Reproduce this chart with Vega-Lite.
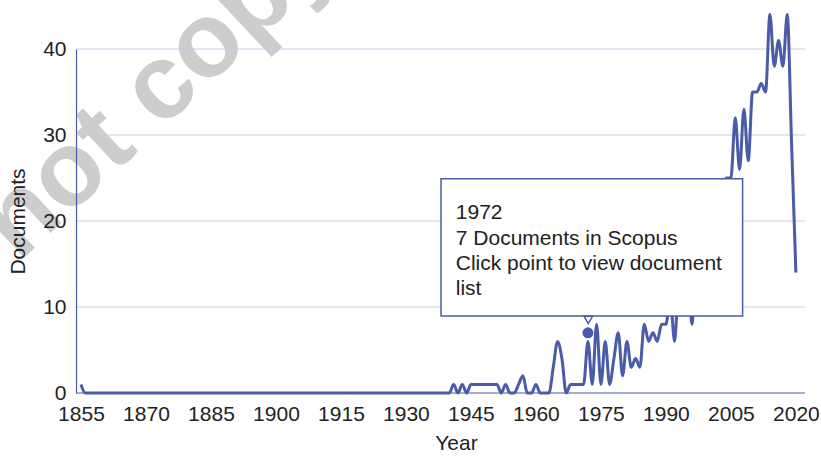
{
  "$schema": "https://vega.github.io/schema/vega-lite/v6.json",
  "width": 729,
  "height": 344,
  "autosize": {"type": "none"},
  "padding": {"left": 76, "top": 49, "right": 16, "bottom": 63},
  "background": "white",
  "config": {
    "view": {"stroke": null},
    "font": "Liberation Sans",
    "axis": {
      "labelFont": "Liberation Sans",
      "titleFont": "Liberation Sans",
      "labelFontSize": 21,
      "titleFontSize": 21,
      "titleFontWeight": "normal",
      "labelColor": "#222222",
      "titleColor": "#222222",
      "ticks": false,
      "grid": false
    }
  },
  "datasets": {
    "docs": [
      {"year": 1855, "value": 1},
      {"year": 1856, "value": 0}, {"year": 1857, "value": 0}, {"year": 1858, "value": 0}, {"year": 1859, "value": 0},
      {"year": 1860, "value": 0}, {"year": 1861, "value": 0}, {"year": 1862, "value": 0}, {"year": 1863, "value": 0},
      {"year": 1864, "value": 0}, {"year": 1865, "value": 0}, {"year": 1866, "value": 0}, {"year": 1867, "value": 0},
      {"year": 1868, "value": 0}, {"year": 1869, "value": 0}, {"year": 1870, "value": 0}, {"year": 1871, "value": 0},
      {"year": 1872, "value": 0}, {"year": 1873, "value": 0}, {"year": 1874, "value": 0}, {"year": 1875, "value": 0},
      {"year": 1876, "value": 0}, {"year": 1877, "value": 0}, {"year": 1878, "value": 0}, {"year": 1879, "value": 0},
      {"year": 1880, "value": 0}, {"year": 1881, "value": 0}, {"year": 1882, "value": 0}, {"year": 1883, "value": 0},
      {"year": 1884, "value": 0}, {"year": 1885, "value": 0}, {"year": 1886, "value": 0}, {"year": 1887, "value": 0},
      {"year": 1888, "value": 0}, {"year": 1889, "value": 0}, {"year": 1890, "value": 0}, {"year": 1891, "value": 0},
      {"year": 1892, "value": 0}, {"year": 1893, "value": 0}, {"year": 1894, "value": 0}, {"year": 1895, "value": 0},
      {"year": 1896, "value": 0}, {"year": 1897, "value": 0}, {"year": 1898, "value": 0}, {"year": 1899, "value": 0},
      {"year": 1900, "value": 0}, {"year": 1901, "value": 0}, {"year": 1902, "value": 0}, {"year": 1903, "value": 0},
      {"year": 1904, "value": 0}, {"year": 1905, "value": 0}, {"year": 1906, "value": 0}, {"year": 1907, "value": 0},
      {"year": 1908, "value": 0}, {"year": 1909, "value": 0}, {"year": 1910, "value": 0}, {"year": 1911, "value": 0},
      {"year": 1912, "value": 0}, {"year": 1913, "value": 0}, {"year": 1914, "value": 0}, {"year": 1915, "value": 0},
      {"year": 1916, "value": 0}, {"year": 1917, "value": 0}, {"year": 1918, "value": 0}, {"year": 1919, "value": 0},
      {"year": 1920, "value": 0}, {"year": 1921, "value": 0}, {"year": 1922, "value": 0}, {"year": 1923, "value": 0},
      {"year": 1924, "value": 0}, {"year": 1925, "value": 0}, {"year": 1926, "value": 0}, {"year": 1927, "value": 0},
      {"year": 1928, "value": 0}, {"year": 1929, "value": 0}, {"year": 1930, "value": 0}, {"year": 1931, "value": 0},
      {"year": 1932, "value": 0}, {"year": 1933, "value": 0}, {"year": 1934, "value": 0}, {"year": 1935, "value": 0},
      {"year": 1936, "value": 0}, {"year": 1937, "value": 0}, {"year": 1938, "value": 0}, {"year": 1939, "value": 0},
      {"year": 1940, "value": 0},
      {"year": 1941, "value": 1}, {"year": 1942, "value": 0}, {"year": 1943, "value": 1}, {"year": 1944, "value": 0},
      {"year": 1945, "value": 1}, {"year": 1946, "value": 1}, {"year": 1947, "value": 1}, {"year": 1948, "value": 1},
      {"year": 1949, "value": 1}, {"year": 1950, "value": 1}, {"year": 1951, "value": 1}, {"year": 1952, "value": 0},
      {"year": 1953, "value": 1}, {"year": 1954, "value": 0}, {"year": 1955, "value": 0}, {"year": 1956, "value": 1},
      {"year": 1957, "value": 2}, {"year": 1958, "value": 0}, {"year": 1959, "value": 0}, {"year": 1960, "value": 1},
      {"year": 1961, "value": 0}, {"year": 1962, "value": 0}, {"year": 1963, "value": 0}, {"year": 1964, "value": 3},
      {"year": 1965, "value": 6}, {"year": 1966, "value": 4}, {"year": 1967, "value": 0}, {"year": 1968, "value": 1},
      {"year": 1969, "value": 1}, {"year": 1970, "value": 1}, {"year": 1971, "value": 1}, {"year": 1972, "value": 6},
      {"year": 1973, "value": 1}, {"year": 1974, "value": 8}, {"year": 1975, "value": 1}, {"year": 1976, "value": 6},
      {"year": 1977, "value": 1}, {"year": 1978, "value": 4}, {"year": 1979, "value": 7}, {"year": 1980, "value": 2},
      {"year": 1981, "value": 6}, {"year": 1982, "value": 3}, {"year": 1983, "value": 4}, {"year": 1984, "value": 3},
      {"year": 1985, "value": 8}, {"year": 1986, "value": 6}, {"year": 1987, "value": 7}, {"year": 1988, "value": 6},
      {"year": 1989, "value": 8}, {"year": 1990, "value": 8}, {"year": 1991, "value": 11}, {"year": 1992, "value": 6},
      {"year": 1993, "value": 13}, {"year": 1994, "value": 11}, {"year": 1995, "value": 15}, {"year": 1996, "value": 8},
      {"year": 1997, "value": 16}, {"year": 1998, "value": 14}, {"year": 1999, "value": 18}, {"year": 2000, "value": 17},
      {"year": 2001, "value": 20}, {"year": 2002, "value": 22}, {"year": 2003, "value": 24}, {"year": 2004, "value": 25},
      {"year": 2005, "value": 25}, {"year": 2006, "value": 32}, {"year": 2007, "value": 26}, {"year": 2008, "value": 33},
      {"year": 2009, "value": 27}, {"year": 2010, "value": 35}, {"year": 2011, "value": 35}, {"year": 2012, "value": 36},
      {"year": 2013, "value": 35}, {"year": 2014, "value": 44}, {"year": 2015, "value": 38}, {"year": 2016, "value": 41},
      {"year": 2017, "value": 38}, {"year": 2018, "value": 44}, {"year": 2019, "value": 29}, {"year": 2020, "value": 14}
    ],
    "grid": [
      {"value": 0, "kind": "base"},
      {"value": 10, "kind": "grid"},
      {"value": 20, "kind": "grid"},
      {"value": 30, "kind": "grid"},
      {"value": 40, "kind": "grid"}
    ],
    "hover": [{"year": 1972, "value": 7}],
    "box": [{"year": 1938.1, "year2": 2007.7, "value": 8.95, "value2": 24.9}],
    "pointer": [{"year": 1972.1, "value": 8.5}],
    "tip": [{"year": 1941.5, "value": 20.2, "label": "1972\n7 Documents in Scopus\nClick point to view document\nlist"}],
    "stamp": [{"year": 1811.8, "value": 1.6, "label": "Do not copy"}]
  },
  "layer": [
    {
      "data": {"name": "stamp"},
      "mark": {"type": "text", "align": "left", "baseline": "alphabetic", "angle": -43, "fontSize": 106, "fontWeight": "bold", "color": "#cdcdcd", "font": "Liberation Sans"},
      "encoding": {
        "x": {"field": "year", "type": "quantitative"},
        "y": {"field": "value", "type": "quantitative"},
        "text": {"field": "label"}
      }
    },
    {
      "data": {"name": "grid"},
      "mark": {"type": "rule"},
      "encoding": {
        "y": {"field": "value", "type": "quantitative"},
        "color": {"field": "kind", "type": "nominal", "scale": {"domain": ["base", "grid"], "range": ["#8490c9", "#c8cbea"]}, "legend": null},
        "strokeWidth": {"field": "kind", "type": "nominal", "scale": {"domain": ["base", "grid"], "range": [1.5, 1.2]}, "legend": null}
      }
    },
    {
      "data": {"name": "docs"},
      "mark": {"type": "line", "interpolate": "monotone", "color": "#4a5ba8", "strokeWidth": 3},
      "encoding": {
        "x": {
          "field": "year", "type": "quantitative",
          "scale": {"domain": [1853.85, 2022.1], "nice": false, "zero": false},
          "axis": {"title": "Year", "values": [1855, 1870, 1885, 1900, 1915, 1930, 1945, 1960, 1975, 1990, 2005, 2020], "format": "d", "domain": false, "labelPadding": 10, "titlePadding": 8, "titleX": 380, "labelFlush": false, "zindex": 2}
        },
        "y": {
          "field": "value", "type": "quantitative",
          "scale": {"domain": [0, 40], "nice": false},
          "axis": {"title": "Documents", "values": [0, 10, 20, 30, 40], "domain": true, "domainColor": "#4a5ba8", "domainWidth": 1.2, "labelPadding": 10, "titlePadding": 14, "zindex": 2}
        }
      }
    },
    {
      "data": {"name": "hover"},
      "mark": {"type": "point", "filled": true, "size": 120, "color": "#4a5ba8", "opacity": 1},
      "encoding": {
        "x": {"field": "year", "type": "quantitative"},
        "y": {"field": "value", "type": "quantitative"}
      }
    },
    {
      "data": {"name": "box"},
      "mark": {"type": "rect", "fill": "white", "stroke": "#4a5ba8", "strokeWidth": 1.5},
      "encoding": {
        "x": {"field": "year", "type": "quantitative"},
        "x2": {"field": "year2"},
        "y": {"field": "value", "type": "quantitative"},
        "y2": {"field": "value2"}
      }
    },
    {
      "data": {"name": "pointer"},
      "mark": {"type": "point", "shape": "triangle-down", "size": 70, "filled": true, "fill": "white", "stroke": "#4a5ba8", "strokeWidth": 1.5, "opacity": 1},
      "encoding": {
        "x": {"field": "year", "type": "quantitative"},
        "y": {"field": "value", "type": "quantitative"}
      }
    },
    {
      "data": {"name": "tip"},
      "mark": {"type": "text", "align": "left", "baseline": "alphabetic", "fontSize": 21, "lineHeight": 25.3, "lineBreak": "\n", "color": "#222222", "font": "Liberation Sans"},
      "encoding": {
        "x": {"field": "year", "type": "quantitative"},
        "y": {"field": "value", "type": "quantitative"},
        "text": {"field": "label"}
      }
    }
  ]
}
